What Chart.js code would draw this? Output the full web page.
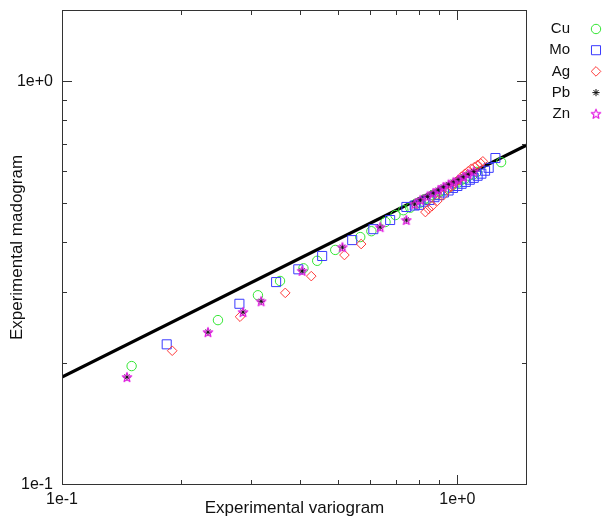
<!DOCTYPE html>
<html>
<head>
<meta charset="utf-8">
<script src="https://cdn.jsdelivr.net/npm/chart.js@4.4.0/dist/chart.umd.min.js"></script>
<style>
  html, body { margin: 0; padding: 0; background: #fff; overflow: hidden; }
  #wrap { width: 614px; height: 516px; position: relative; }
</style>
</head>
<body>
<div id="wrap"><canvas id="chart"></canvas></div>
<script>
const FONT = "'Liberation Sans', Arial, Helvetica, sans-serif";

// series, [variogram, madogram]
const seriesNames = ["Cu", "Mo", "Ag", "Pb", "Zn"];

const cuPoints = [
  [0.150, 0.197], [0.248, 0.256], [0.313, 0.295], [0.356, 0.320], [0.408, 0.344],
  [0.442, 0.359], [0.491, 0.382], [0.568, 0.411], [0.606, 0.425], [0.658, 0.448],
  [0.697, 0.466], [0.730, 0.479], [0.760, 0.486], [0.785, 0.497], [0.805, 0.500],
  [0.825, 0.510], [0.845, 0.512], [0.865, 0.522], [0.885, 0.524], [0.905, 0.533],
  [0.925, 0.537], [0.945, 0.546], [0.965, 0.549], [0.985, 0.558], [1.005, 0.561],
  [1.025, 0.570], [1.045, 0.573], [1.070, 0.583], [1.095, 0.587], [1.120, 0.596],
  [1.290, 0.630]
];
const moPoints = [
  [0.184, 0.223], [0.281, 0.281], [0.348, 0.318], [0.396, 0.342], [0.455, 0.369],
  [0.542, 0.404], [0.613, 0.430], [0.676, 0.453], [0.743, 0.488], [0.780, 0.492],
  [0.800, 0.494], [0.825, 0.503], [0.850, 0.508], [0.875, 0.516], [0.900, 0.522],
  [0.925, 0.530], [0.950, 0.536], [0.975, 0.544], [1.000, 0.550], [1.025, 0.557],
  [1.050, 0.563], [1.075, 0.570], [1.100, 0.576], [1.125, 0.583], [1.150, 0.590],
  [1.175, 0.600], [1.200, 0.610], [1.248, 0.645]
];
const agPoints = [
  [0.190, 0.215], [0.282, 0.261], [0.367, 0.299], [0.427, 0.329], [0.518, 0.371],
  [0.571, 0.395], [0.830, 0.474], [0.845, 0.482], [0.862, 0.490], [0.890, 0.505],
  [0.922, 0.522], [0.945, 0.538], [0.965, 0.548], [0.985, 0.560], [1.005, 0.569],
  [1.025, 0.580], [1.045, 0.590], [1.065, 0.598], [1.085, 0.607], [1.105, 0.613],
  [1.125, 0.620], [1.145, 0.626], [1.160, 0.633]
];
const pbPoints = [
  [0.146, 0.185], [0.234, 0.239], [0.287, 0.268], [0.319, 0.285], [0.405, 0.339],
  [0.512, 0.388], [0.638, 0.435], [0.743, 0.453], [0.780, 0.496], [0.806, 0.508],
  [0.840, 0.518], [0.869, 0.528], [0.895, 0.537], [0.922, 0.547], [0.950, 0.555],
  [0.977, 0.562], [1.005, 0.570], [1.035, 0.579], [1.065, 0.588], [1.100, 0.597]
];
const znPoints = pbPoints.slice();

const fitLine = [[0.1, 0.185], [1.5, 0.695]];

const xTickValues = [0.1, 1];
const xTickLabels = ["1e-1", "1e+0"];
const yTickValues = [0.1, 1];
const yTickLabels = ["1e-1", "1e+0"];
const minorTicks = [0.2, 0.3, 0.4, 0.5, 0.6, 0.7, 0.8, 0.9];
const majorTicks = [1];

const colors = { Cu: "#33e633", Mo: "#3a3aff", Ag: "#ff3a3a", Pb: "#111111", Zn: "#e41ee4" };

const toXY = (pts) => pts.map(p => ({ x: p[0], y: p[1] }));

const makeStar = (color) => {
  const c = document.createElement("canvas");
  c.width = 12; c.height = 12;
  const g = c.getContext("2d");
  g.strokeStyle = color;
  g.lineWidth = 1.2;
  g.lineJoin = "round";
  g.beginPath();
  for (let i = 0; i < 10; i++) {
    const r = i % 2 === 0 ? 5 : 2.2;
    const a = -Math.PI / 2 + i * Math.PI / 5;
    const px = 6 + r * Math.cos(a), py = 6.4 + r * Math.sin(a);
    if (i === 0) g.moveTo(px, py); else g.lineTo(px, py);
  }
  g.closePath();
  g.stroke();
  return c;
};
const znStar = makeStar(colors.Zn);

const markers = {
  Cu: { pointStyle: "circle", radius: 4.7 },
  Mo: { pointStyle: "rect", radius: 6.4 },
  Ag: { pointStyle: "rectRot", radius: 4.8 },
  Pb: { pointStyle: "star", radius: 3.6 },
  Zn: { pointStyle: znStar, radius: 5 }
};

const seriesData = { Cu: cuPoints, Mo: moPoints, Ag: agPoints, Pb: pbPoints, Zn: znPoints };

const datasets = seriesNames.map((name, i) => ({
  label: name,
  data: toXY(seriesData[name]),
  pointStyle: markers[name].pointStyle,
  pointRadius: markers[name].radius,
  pointBorderWidth: 1,
  borderColor: colors[name],
  backgroundColor: "rgba(0,0,0,0)",
  pointBackgroundColor: "rgba(0,0,0,0)",
  order: 5 - i
}));
datasets.push({
  label: "fit",
  data: toXY(fitLine),
  showLine: true,
  pointRadius: 0,
  borderColor: "#000",
  borderWidth: 3.2,
  order: 10
});

// frame + inward ticks on all four sides
const framePlugin = {
  id: "frame",
  afterDatasetsDraw(chart) {
    const { ctx, chartArea: a, scales: { x, y } } = chart;
    ctx.save();
    ctx.strokeStyle = "#333";
    ctx.lineWidth = 1;
    ctx.strokeRect(a.left + 0.5, a.top + 0.5, a.right - a.left - 1, a.bottom - a.top - 1);
    ctx.beginPath();
    const tick = (v, len) => {
      const px = Math.round(x.getPixelForValue(v)) + 0.5;
      ctx.moveTo(px, a.bottom); ctx.lineTo(px, a.bottom - len);
      ctx.moveTo(px, a.top); ctx.lineTo(px, a.top + len);
      const py = Math.round(y.getPixelForValue(v)) + 0.5;
      ctx.moveTo(a.left, py); ctx.lineTo(a.left + len, py);
      ctx.moveTo(a.right, py); ctx.lineTo(a.right - len, py);
    };
    minorTicks.forEach(v => tick(v, 5));
    majorTicks.forEach(v => tick(v, 10));
    ctx.stroke();
    ctx.restore();
  }
};

// legend: name on the left, marker on the right
const legendPlugin = {
  id: "sideLegend",
  afterDraw(chart) {
    const { ctx } = chart;
    const helpers = Chart.helpers;
    ctx.save();
    ctx.font = "15px " + FONT;
    ctx.textAlign = "right";
    ctx.textBaseline = "middle";
    seriesNames.forEach((name, i) => {
      const rowY = 29 + i * 21.2;
      ctx.fillStyle = "#111";
      ctx.fillText(name, 570, rowY);
      ctx.strokeStyle = colors[name];
      ctx.fillStyle = "rgba(0,0,0,0)";
      ctx.lineWidth = 1;
      if (helpers && helpers.drawPoint) {
        helpers.drawPoint(ctx, {
          pointStyle: markers[name].pointStyle,
          radius: markers[name].radius,
          borderWidth: 1,
          rotation: 0
        }, 596, rowY);
      }
    });
    ctx.restore();
  }
};

const tickFont = { family: FONT, size: 16 };

new Chart(document.getElementById("chart"), {
  type: "scatter",
  data: { datasets },
  options: {
    responsive: true,
    maintainAspectRatio: false,
    animation: false,
    events: [],
    layout: { padding: { top: 10, right: 87, left: 0, bottom: 0 } },
    plugins: { legend: { display: false }, tooltip: { enabled: false } },
    scales: {
      x: {
        type: "logarithmic",
        min: 0.1,
        max: 1.5,
        afterBuildTicks: (axis) => { axis.ticks = xTickValues.map(v => ({ value: v })); },
        afterFit: (axis) => { axis.height = 31; axis.paddingRight = 0; },
        grid: { display: false, drawTicks: false },
        border: { display: false },
        ticks: {
          autoSkip: false,
          maxRotation: 0,
          padding: 5,
          color: "#111",
          font: tickFont,
          callback: (v, i) => xTickLabels[i]
        },
        title: {
          display: true,
          text: "Experimental variogram",
          color: "#111",
          font: { family: FONT, size: 17 },
          padding: { top: 0, bottom: -3 }
        }
      },
      y: {
        type: "logarithmic",
        min: 0.1,
        max: 1.5,
        afterBuildTicks: (axis) => { axis.ticks = yTickValues.map(v => ({ value: v })); },
        afterFit: (axis) => { axis.width = 62; axis.paddingTop = 0; axis.paddingBottom = 0; },
        grid: { display: false, drawTicks: false },
        border: { display: false },
        ticks: {
          autoSkip: false,
          padding: 9,
          color: "#111",
          font: tickFont,
          callback: (v, i) => yTickLabels[i]
        },
        title: {
          display: true,
          text: "Experimental madogram",
          color: "#111",
          font: { family: FONT, size: 17 },
          padding: { top: 7, bottom: 0 }
        }
      }
    }
  },
  plugins: [framePlugin, legendPlugin]
});
</script>
</body>
</html>
